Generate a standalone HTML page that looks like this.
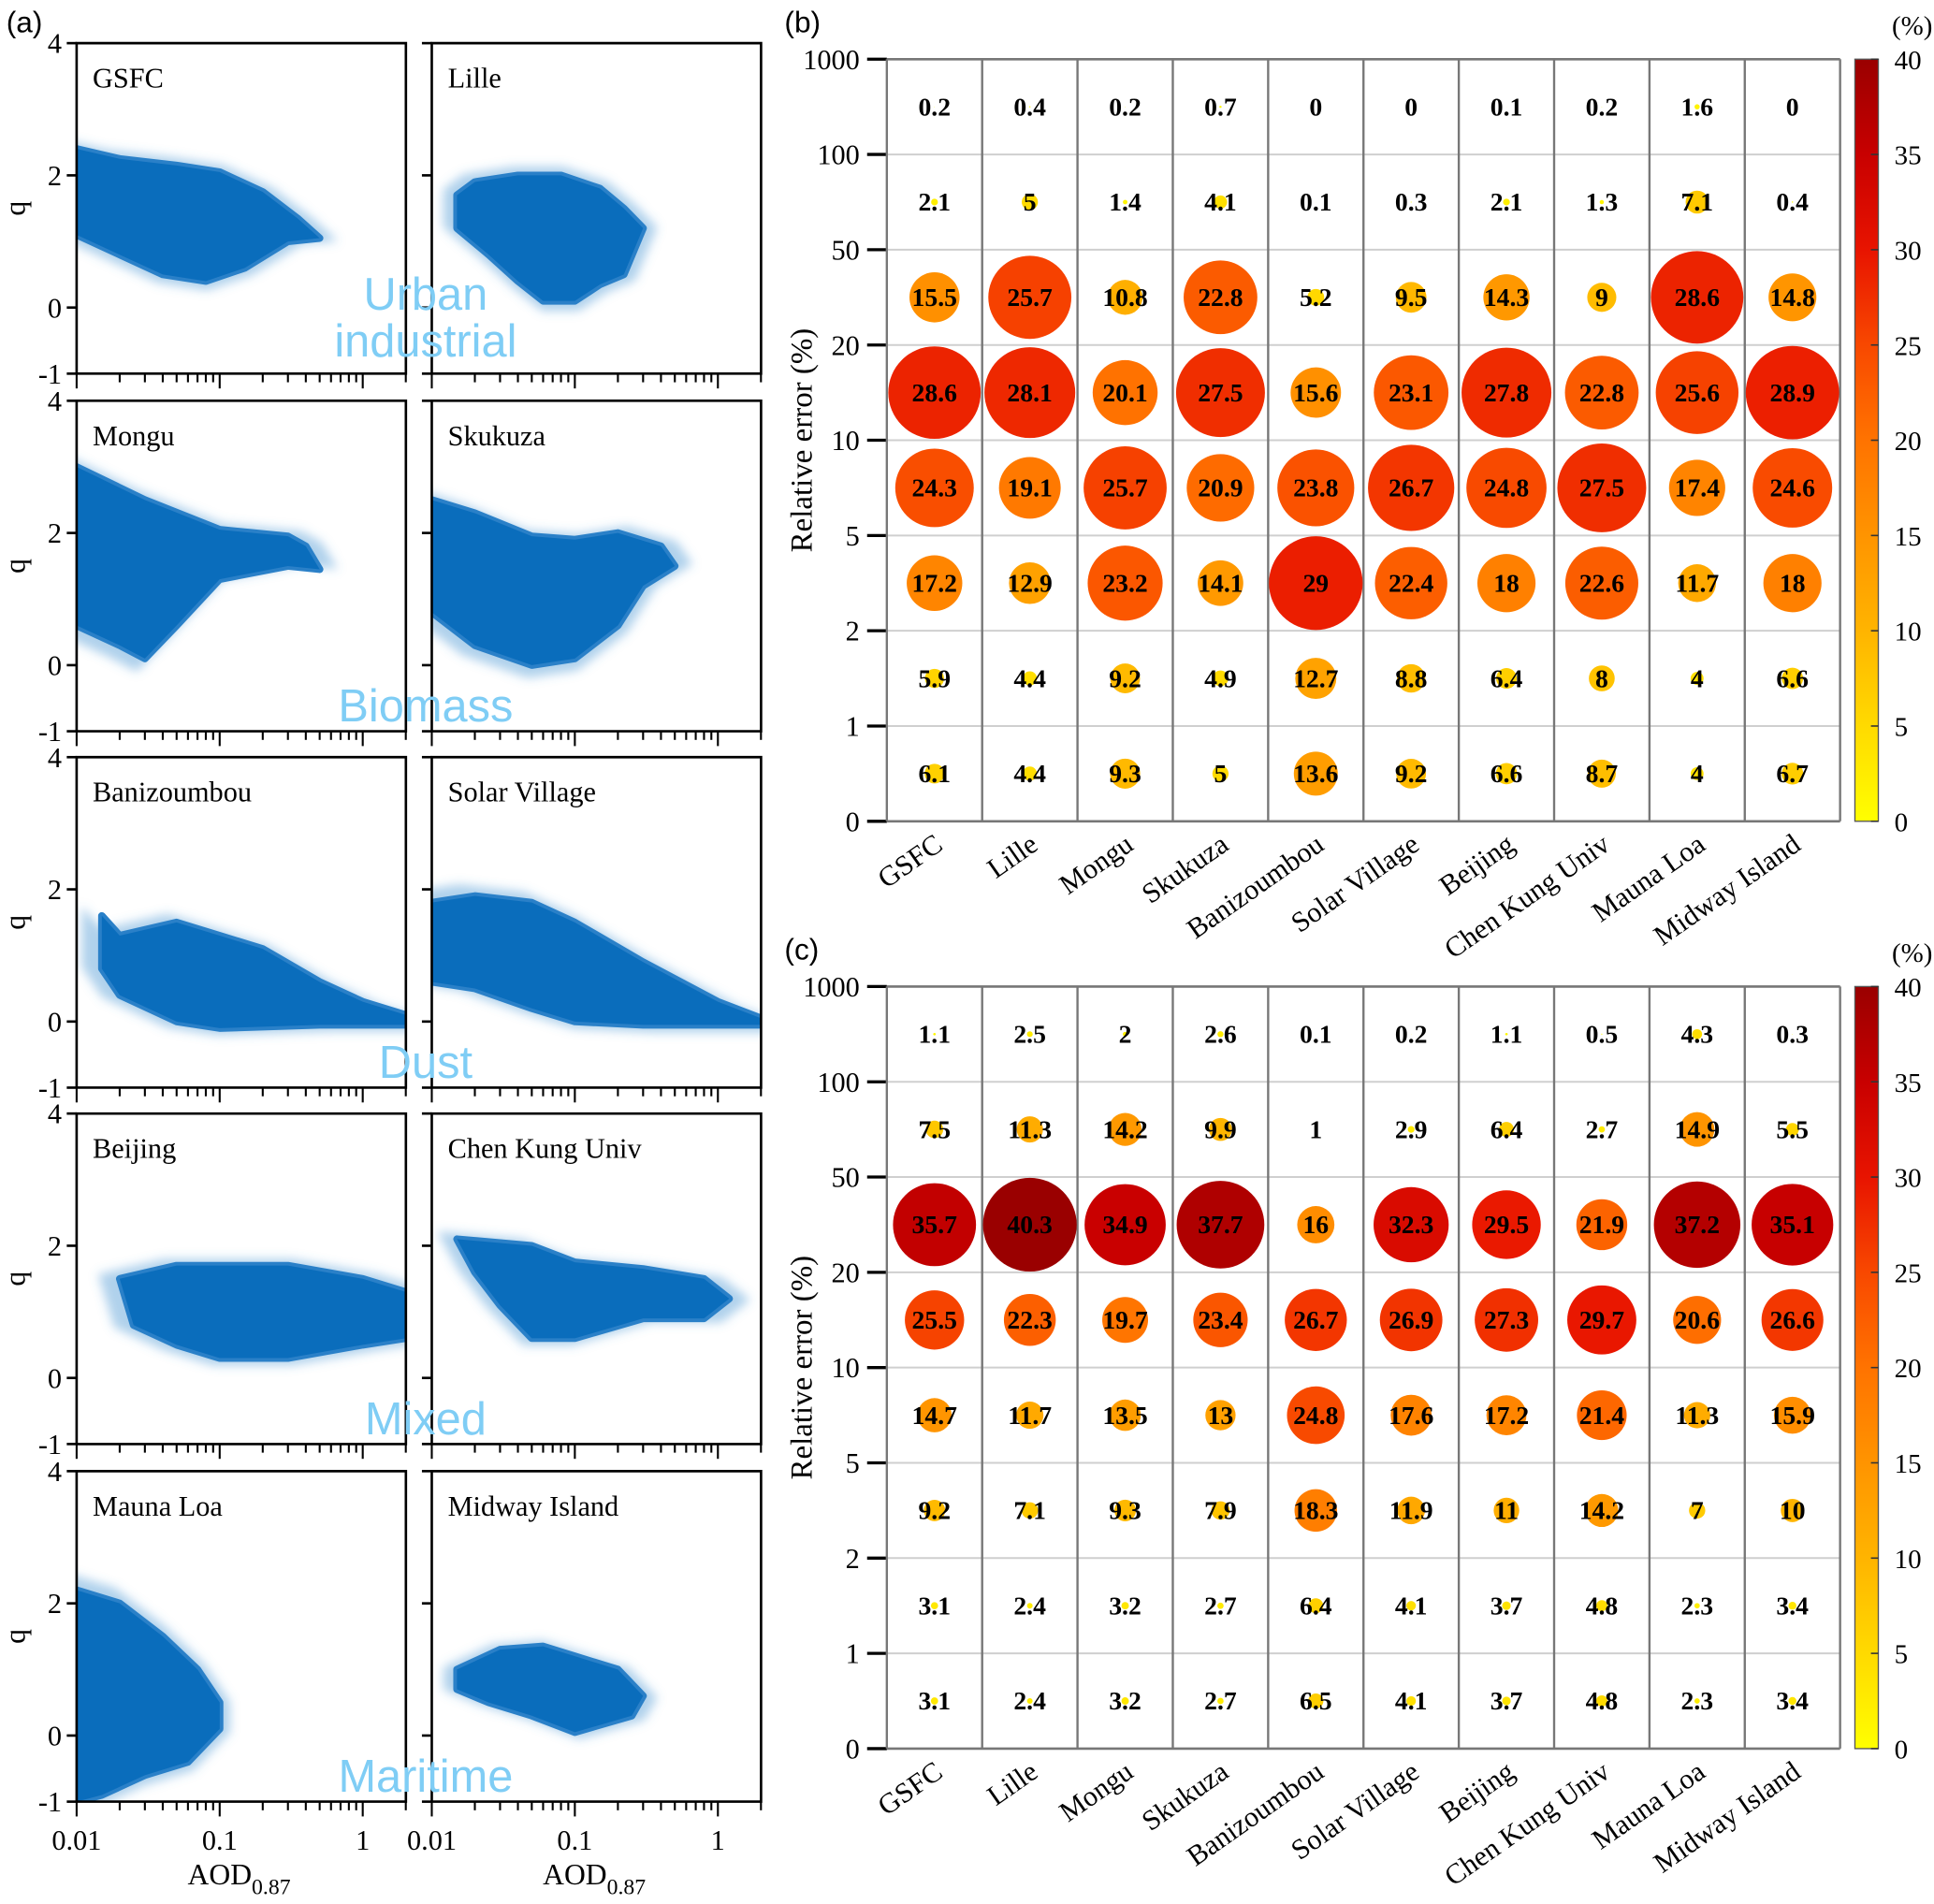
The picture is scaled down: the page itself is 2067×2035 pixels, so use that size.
<!DOCTYPE html>
<html><head><meta charset="utf-8"><style>
html,body{margin:0;padding:0;background:#fff;}
svg{display:block;font-family:"Liberation Serif",serif;}
</style></head><body>
<svg id="fig" xmlns="http://www.w3.org/2000/svg" width="2067" height="2035" viewBox="0 0 1568 1544">
<defs><filter id="blur" x="-20%" y="-20%" width="140%" height="140%"><feGaussianBlur stdDeviation="4"/></filter></defs>
<rect x="0" y="0" width="1568" height="1544" fill="#fff"/>
<g id="scat"></g>
<g id="bubB"></g>
<g id="bubC"></g>
</svg>
<script>
const NS='http://www.w3.org/2000/svg';
function mk(tag,attrs,parent,txt){const e=document.createElementNS(NS,tag);for(const k in attrs)e.setAttribute(k,attrs[k]);if(txt!==undefined)e.textContent=txt;parent.appendChild(e);return e;}

// ---------- data ----------
const sites=['GSFC','Lille','Mongu','Skukuza','Banizoumbou','Solar Village','Beijing','Chen Kung Univ','Mauna Loa','Midway Island'];
const rowLabels=['1000','100','50','20','10','5','2','1','0'];
const valsB=[
[0.2,0.4,0.2,0.7,0,0,0.1,0.2,1.6,0],
[2.1,5,1.4,4.1,0.1,0.3,2.1,1.3,7.1,0.4],
[15.5,25.7,10.8,22.8,5.2,9.5,14.3,9,28.6,14.8],
[28.6,28.1,20.1,27.5,15.6,23.1,27.8,22.8,25.6,28.9],
[24.3,19.1,25.7,20.9,23.8,26.7,24.8,27.5,17.4,24.6],
[17.2,12.9,23.2,14.1,29,22.4,18,22.6,11.7,18],
[5.9,4.4,9.2,4.9,12.7,8.8,6.4,8,4,6.6],
[6.1,4.4,9.3,5,13.6,9.2,6.6,8.7,4,6.7]];
const valsC=[
[1.1,2.5,2,2.6,0.1,0.2,1.1,0.5,4.3,0.3],
[7.5,11.3,14.2,9.9,1,2.9,6.4,2.7,14.9,5.5],
[35.7,40.3,34.9,37.7,16,32.3,29.5,21.9,37.2,35.1],
[25.5,22.3,19.7,23.4,26.7,26.9,27.3,29.7,20.6,26.6],
[14.7,11.7,13.5,13,24.8,17.6,17.2,21.4,11.3,15.9],
[9.2,7.1,9.3,7.9,18.3,11.9,11,14.2,7,10],
[3.1,2.4,3.2,2.7,6.4,4.1,3.7,4.8,2.3,3.4],
[3.1,2.4,3.2,2.7,6.5,4.1,3.7,4.8,2.3,3.4]];
const cbTicks=[0,5,10,15,20,25,30,35,40];

// scatter cloud outlines [AOD, q]
const cloudGSFC=[[0.01,2.4],[0.02,2.25],[0.05,2.15],[0.1,2.05],[0.2,1.75],[0.35,1.35],[0.5,1.05],[0.3,1.0],[0.15,0.6],[0.08,0.4],[0.04,0.5],[0.02,0.8],[0.01,1.1]];
const cloudLille=[[0.015,1.7],[0.02,1.9],[0.04,2.0],[0.08,2.0],[0.15,1.8],[0.22,1.5],[0.3,1.2],[0.22,0.5],[0.15,0.35],[0.1,0.1],[0.06,0.1],[0.04,0.4],[0.025,0.8],[0.015,1.2]];
const cloudMongu=[[0.01,3.0],[0.03,2.5],[0.1,2.05],[0.3,1.95],[0.4,1.8],[0.5,1.45],[0.3,1.5],[0.1,1.3],[0.05,0.6],[0.03,0.1],[0.02,0.3],[0.01,0.6]];
const cloudSkukuza=[[0.01,2.5],[0.02,2.3],[0.05,1.95],[0.1,1.9],[0.2,2.0],[0.4,1.8],[0.5,1.5],[0.3,1.2],[0.2,0.6],[0.1,0.1],[0.05,0.0],[0.02,0.3],[0.01,0.8]];
const cloudBani=[[0.015,1.6],[0.02,1.3],[0.05,1.5],[0.1,1.3],[0.2,1.1],[0.5,0.6],[1,0.3],[2,0.1],[2,-0.05],[0.5,-0.05],[0.1,-0.1],[0.05,0],[0.02,0.4],[0.015,0.8]];
const cloudSolar=[[0.01,1.8],[0.02,1.9],[0.05,1.8],[0.1,1.5],[0.3,0.9],[1,0.3],[2,0.05],[2,-0.05],[0.3,-0.05],[0.1,0.0],[0.05,0.2],[0.02,0.5],[0.01,0.6]];
const cloudBeijing=[[0.02,1.5],[0.05,1.7],[0.1,1.7],[0.3,1.7],[1,1.5],[2,1.3],[2,0.6],[1,0.5],[0.3,0.3],[0.1,0.3],[0.05,0.5],[0.025,0.8]];
const cloudChen=[[0.015,2.1],[0.05,2.0],[0.1,1.75],[0.3,1.65],[0.8,1.5],[1.2,1.2],[0.8,0.9],[0.3,0.9],[0.1,0.6],[0.05,0.6],[0.03,1.1],[0.02,1.6]];
const cloudMauna=[[0.01,2.2],[0.02,2.0],[0.04,1.5],[0.07,1.0],[0.1,0.5],[0.1,0.1],[0.06,-0.4],[0.03,-0.6],[0.015,-0.9],[0.01,-1.0]];
const cloudMidway=[[0.015,1.0],[0.03,1.3],[0.06,1.35],[0.1,1.2],[0.2,1.0],[0.3,0.6],[0.25,0.3],[0.1,0.05],[0.05,0.3],[0.025,0.5],[0.015,0.7]];
const clouds=[cloudGSFC,cloudLille,cloudMongu,cloudSkukuza,cloudBani,cloudSolar,cloudBeijing,cloudChen,cloudMauna,cloudMidway];
const typeLabels=[['Urban','industrial'],['Biomass'],['Dust'],['Mixed'],['Maritime']];

// ---------- colormap ----------
const cmap=[[0,[255,255,0]],[10,[255,180,0]],[20,[255,115,0]],[25,[248,72,0]],[30,[232,20,0]],[35,[200,0,0]],[40,[154,0,0]]];
function col(v){v=Math.max(0,Math.min(40,v));for(let i=0;i<cmap.length-1;i++){const a=cmap[i],b=cmap[i+1];if(v<=b[0]){const t=(v-a[0])/(b[0]-a[0]);const c=a[1].map((x,j)=>Math.round(x+(b[1][j]-x)*t));return `rgb(${c})`;}}return 'rgb(154,0,0)';}

// ---------- scatter panels ----------
const S=document.getElementById('scat');
const colX=[62,350],rowY=[35,325,614,903,1193],PW=267,PH=268;
const xS=(x0,a)=>x0+(Math.log10(a)+2)*116;
const yS=(y0,q)=>y0+(4-q)*PH/5;
mk('text',{x:5,y:26,'font-family':'Liberation Sans,sans-serif','font-size':24,},S,'(a)');
for(let i=0;i<10;i++){
  const c=i%2,r=Math.floor(i/2),x0=colX[c],y0=rowY[r];
  const g=mk('g',{},S);
  
  
  mk('clipPath',{id:'cp'+i},g);
  mk('rect',{x:x0,y:y0,width:PW,height:PH},document.getElementById('cp'+i));
  const pts=clouds[i].map(p=>[xS(x0,p[0]),yS(y0,p[1])]);
  const cx=pts.reduce((s,p)=>s+p[0],0)/pts.length,cy=pts.reduce((s,p)=>s+p[1],0)/pts.length;
  const halo=pts.map(p=>[cx+(p[0]-cx)*1.15,cy+(p[1]-cy)*1.15]);
  const cg=mk('g',{'clip-path':`url(#cp${i})`},g);
  mk('polygon',{points:halo.map(p=>p.join(',')).join(' '),fill:'#4f98d4','fill-opacity':0.45,filter:'url(#blur)'},cg);
  mk('polygon',{points:pts.map(p=>p.join(',')).join(' '),fill:'#0b6fbd','stroke':'#2a80c8','stroke-width':6,'stroke-linejoin':'round'},cg);
  mk('polygon',{points:pts.map(p=>p.join(',')).join(' '),fill:'#0a6dbc'},cg);
  const fr=mk('path',{d:`M${x0},${y0+PH}V${y0}H${x0+PW}V${y0+PH}H${x0}`,fill:'none',stroke:'#000','stroke-width':2},g);
  
  [4,2,0,-1].forEach(q=>{const y=yS(y0,q);mk('line',{x1:x0-8,x2:x0,y1:y,y2:y,stroke:'#000','stroke-width':2},g);
    if(c===0){const t=mk('text',{x:x0-12,y:y+8,'text-anchor':'end','font-size':23},g,String(q));}});
  for(let d=-2;d<=0;d++)for(let m=1;m<=9;m++){const a=m*Math.pow(10,d);if(a>2.01)continue;const x=xS(x0,a);
    mk('line',{x1:x,x2:x,y1:y0+PH,y2:y0+PH+(m===1?12:7),stroke:'#000','stroke-width':1.6},g);}
  const nm=mk('text',{x:x0+13,y:y0+36,'font-size':23},g,sites[i]);
  if(c===0){const ql=mk('text',{x:20,y:y0+PH/2,'font-size':24,'text-anchor':'middle',transform:`rotate(-90 20 ${y0+PH/2})`},g,'q');}
  if(r===4){[[0.01,'0.01'],[0.1,'0.1'],[1,'1']].forEach(t=>{const tl=mk('text',{x:xS(x0,t[0]),y:1500,'text-anchor':'middle','font-size':23},g,t[1]);});
    const at=mk('text',{x:x0+90,y:1528,'font-size':24},g);
    mk('tspan',{},at,'AOD');mk('tspan',{dy:8,'font-size':18},at,'0.87');}
}
typeLabels.forEach((tl,r)=>{const y0=rowY[r];const n=tl.length;
  tl.forEach((s,k)=>{const t=mk('text',{x:345,y:y0+PH-(n-1-k)*38-(n>1?14:8),'text-anchor':'middle','font-family':'Liberation Sans,sans-serif','font-size':37,fill:'#7fcdf5'},S,s);
  });});

// ---------- bubble charts ----------
function bubble(G,top,vals,label){
  const L=719,R=1492,B=top+618,cw=(R-L)/10,rh=(B-top)/8;
  const vmax=Math.max(...vals.flat());
  mk('text',{x:636,y:top-22,'font-family':'Liberation Sans,sans-serif','font-size':24,},G,label);
  for(let k=0;k<=8;k++){const y=top+k*rh;mk('line',{x1:L,x2:R,y1:y,y2:y,stroke:'#cfcfcf','stroke-width':1.5},G);
    mk('line',{x1:L-16,x2:L,y1:y,y2:y,stroke:'#000','stroke-width':2.5},G);
    const t=mk('text',{x:L-22,y:y+8,'text-anchor':'end','font-size':23},G,rowLabels[k]);}
  for(let j=0;j<=10;j++){const x=L+j*cw;mk('line',{x1:x,x2:x,y1:top,y2:B,stroke:'#777','stroke-width':1.8},G);}
  mk('line',{x1:L,x2:R,y1:top,y2:top,stroke:'#777','stroke-width':2},G);
  mk('line',{x1:L,x2:R,y1:B,y2:B,stroke:'#777','stroke-width':2},G);
  const yt=mk('text',{x:658,y:(top+B)/2,'text-anchor':'middle','font-size':25,transform:`rotate(-90 658 ${(top+B)/2})`},G,'Relative  error (%)');
  vals.forEach((row,i)=>row.forEach((v,j)=>{const cx=L+(j+0.5)*cw,cy=top+(i+0.5)*rh;
    const c=mk('circle',{cx:cx,cy:cy,r:38*v/vmax,fill:col(v)},G);
    const t=mk('text',{x:cx,y:cy+7,'text-anchor':'middle','font-size':21,'font-weight':'bold'},G,String(v));}));
  sites.forEach((s,j)=>{const x=L+(j+0.5)*cw+8,y=B+22;const t=mk('text',{x:x,y:y,'text-anchor':'end','font-size':23,transform:`rotate(-35 ${x} ${y})`},G,s);});
  const id='cb'+label.replace(/\W/g,'');const gr=mk('linearGradient',{id:id,x1:0,y1:1,x2:0,y2:0},G);
  for(let v=0;v<=40;v+=2.5)mk('stop',{offset:v/40,'stop-color':col(v)},gr);
  const cb=mk('rect',{x:1504,y:top,width:19,height:B-top,fill:`url(#${id})`,stroke:'#555','stroke-width':1},G);
  cbTicks.forEach(v=>{const y=B-(v/40)*(B-top);mk('line',{x1:1517,x2:1523,y1:y,y2:y,stroke:'#333','stroke-width':1.2},G);
    const t=mk('text',{x:1536,y:y+8,'font-size':22},G,String(v));});
  mk('text',{x:1534,y:top-20,'font-size':22,},G,'(%)');
}
bubble(document.getElementById('bubB'),48,valsB,'(b)');
bubble(document.getElementById('bubC'),800,valsC,'(c)');
</script>
</body></html>
